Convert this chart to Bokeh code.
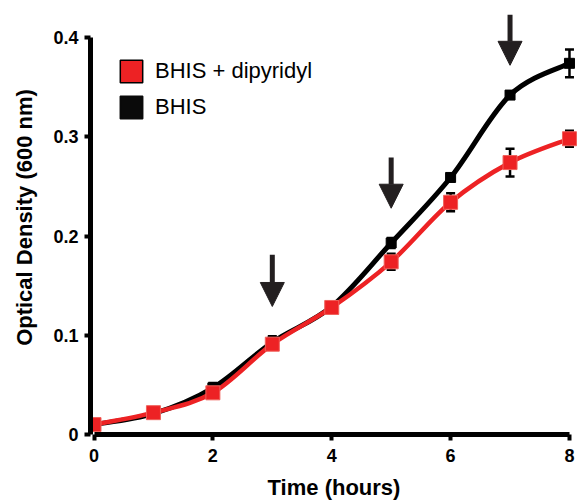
from bokeh.plotting import figure
from bokeh.models import (Range1d, FixedTicker, Legend, LegendItem, Arrow, NormalHead,
                          ColumnDataSource, Whisker, TeeHead)
from bokeh.embed import file_html
from bokeh.resources import INLINE

# ---- data ----
time_h = [0, 1, 2, 3, 4, 5, 6, 7, 8]
od_bhis = [0.010, 0.021, 0.047, 0.093, 0.129, 0.193, 0.259, 0.342, 0.374]
err_bhis = [0.005, 0.002, 0.005, 0.006, 0.003, 0.005, 0.003, 0.003, 0.014]
od_dip = [0.010, 0.022, 0.042, 0.091, 0.128, 0.174, 0.234, 0.274, 0.298]
err_dip = [0.004, 0.002, 0.003, 0.004, 0.003, 0.008, 0.009, 0.014, 0.008]
arrow_time = [3, 5, 7]
arrow_tip = [0.129, 0.228, 0.372]
arrow_tail = [0.181, 0.279, 0.423]
x_ticks = [0, 2, 4, 6, 8]
y_ticks = [0, 0.1, 0.2, 0.3, 0.4]
y_tick_labels = ["0", "0.1", "0.2", "0.3", "0.4"]
series_names = ["BHIS + dipyridyl", "BHIS"]

RED = "#ED2224"
BLACK = "#000000"
ARROW = "#231F20"
FONT = "Liberation Sans"


def bezier_segments(xs, ys):
    """Catmull-Rom style control points so the line passes smoothly through the data."""
    n = len(xs)
    out = dict(x0=[], y0=[], x1=[], y1=[], cx0=[], cy0=[], cx1=[], cy1=[])
    for i in range(n - 1):
        xm, ym = (xs[i - 1], ys[i - 1]) if i > 0 else (xs[i], ys[i])
        xp, yp = (xs[i + 2], ys[i + 2]) if i + 2 < n else (xs[i + 1], ys[i + 1])
        out["x0"].append(xs[i]); out["y0"].append(ys[i])
        out["x1"].append(xs[i + 1]); out["y1"].append(ys[i + 1])
        out["cx0"].append(xs[i] + (xs[i + 1] - xm) / 6.0)
        out["cy0"].append(ys[i] + (ys[i + 1] - ym) / 6.0)
        out["cx1"].append(xs[i + 1] - (xp - xs[i]) / 6.0)
        out["cy1"].append(ys[i + 1] - (yp - ys[i]) / 6.0)
    return out


p = figure(width=577, height=502, output_backend="svg", toolbar_location=None,
           x_range=Range1d(-0.059, 8.135), y_range=Range1d(0, 0.4373),
           min_border_left=90, min_border_right=0, min_border_top=0, min_border_bottom=67)
p.outline_line_color = None
p.grid.visible = False
p.background_fill_color = "white"

# axes
p.xaxis.ticker = FixedTicker(ticks=x_ticks)
p.yaxis.ticker = FixedTicker(ticks=y_ticks)
p.yaxis.major_label_overrides = {t: l for t, l in zip(y_ticks, y_tick_labels)}
p.xaxis.bounds = (x_ticks[0], x_ticks[-1])
p.yaxis.bounds = (y_ticks[0], y_ticks[-1])
for ax in (p.xaxis, p.yaxis):
    ax.axis_line_width = 5
    ax.axis_line_color = BLACK
    ax.major_tick_line_width = 4
    ax.major_tick_line_color = BLACK
    ax.major_tick_out = 6
    ax.major_tick_in = 0
    ax.minor_tick_line_color = None
    ax.major_label_text_font = FONT
    ax.major_label_text_font_style = "bold"
    ax.major_label_text_font_size = "18px"
    ax.major_label_text_color = BLACK
    ax.axis_label_text_font = FONT
    ax.axis_label_text_font_style = "bold"
    ax.axis_label_text_font_size = "22px"
    ax.axis_label_text_color = BLACK
p.xaxis.axis_label = "Time (hours)"
p.yaxis.axis_label = "Optical Density (600 nm)"
p.xaxis.major_label_standoff = 8
p.yaxis.major_label_standoff = 6
p.xaxis.axis_label_standoff = 10
p.yaxis.axis_label_standoff = 13

# BHIS (black)
bb = bezier_segments(time_h, od_bhis)
p.bezier(source=ColumnDataSource(bb), x0="x0", y0="y0", x1="x1", y1="y1",
         cx0="cx0", cy0="cy0", cx1="cx1", cy1="cy1", line_color=BLACK, line_width=5)
p.scatter(time_h, od_bhis, marker="square", size=10, fill_color=BLACK, line_color=BLACK)

# BHIS + dipyridyl (red)
br = bezier_segments(time_h, od_dip)
p.bezier(source=ColumnDataSource(br), x0="x0", y0="y0", x1="x1", y1="y1",
         cx0="cx0", cy0="cy0", cx1="cx1", cy1="cy1", line_color=RED, line_width=4.5)
p.scatter(time_h, od_dip, marker="square", size=14, fill_color=RED, line_color="#F0605A",
          line_width=1)

# error bars
for vals, errs in ((od_bhis, err_bhis), (od_dip, err_dip)):
    src = ColumnDataSource(dict(t=time_h,
                                lo=[v - e for v, e in zip(vals, errs)],
                                hi=[v + e for v, e in zip(vals, errs)]))
    w = Whisker(source=src, base="t", lower="lo", upper="hi", line_color=BLACK, line_width=2.5,
                upper_head=TeeHead(size=9, line_width=2.5, line_color=BLACK),
                lower_head=TeeHead(size=9, line_width=2.5, line_color=BLACK))
    p.add_layout(w)

# arrows
asrc = ColumnDataSource(dict(x=arrow_time, y0=arrow_tail, y1=arrow_tip))
p.add_layout(Arrow(source=asrc, x_start="x", y_start="y0", x_end="x", y_end="y1",
                   line_color=ARROW, line_width=5,
                   end=NormalHead(size=24, fill_color=ARROW, line_color=ARROW, line_width=1)))

# legend swatches (hidden renderers; legend draws squares)
q_red = p.quad(left=time_h, right=time_h, bottom=od_dip, top=od_dip, fill_color=RED,
               line_color=BLACK, line_width=1.5, visible=False)
q_blk = p.quad(left=time_h, right=time_h, bottom=od_bhis, top=od_bhis, fill_color="#0A0A0A",
               line_color="#0A0A0A", line_width=1.5, visible=False)
legend = Legend(items=[LegendItem(label=series_names[0], renderers=[q_red]),
                       LegendItem(label=series_names[1], renderers=[q_blk])],
                location=(27, 313), orientation="vertical",
                glyph_width=28, glyph_height=28, label_height=28, spacing=8,
                label_standoff=10, padding=0, margin=0,
                border_line_color=None, background_fill_alpha=0,
                label_text_font=FONT, label_text_font_size="22px", label_text_color=BLACK)
p.add_layout(legend)

open("out.html", "w").write(file_html(p, INLINE))
